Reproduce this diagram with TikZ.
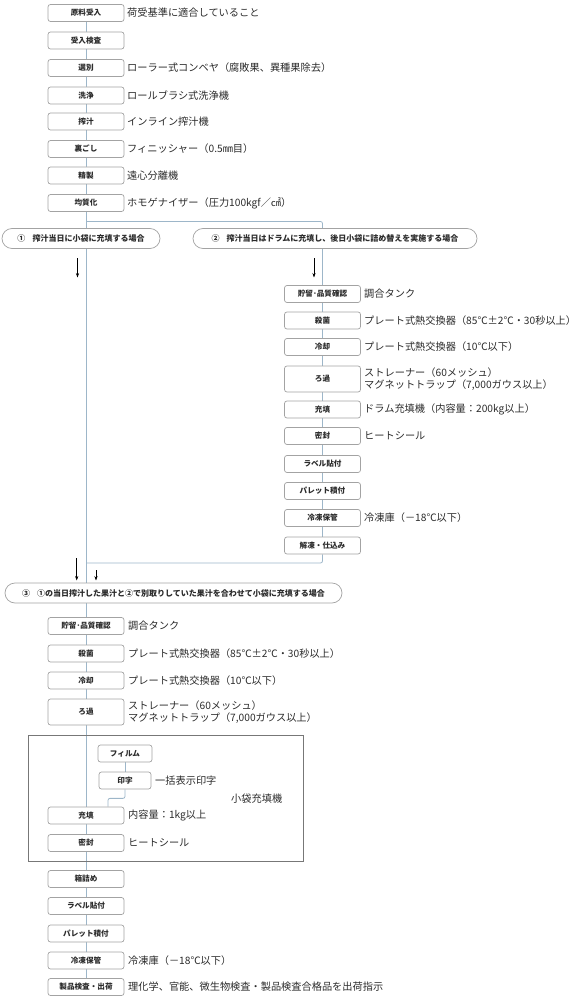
\documentclass[tikz,border=0pt]{standalone}
\usepackage{fontspec}
\newfontfamily\jp{Noto Sans CJK JP}
\usetikzlibrary{arrows.meta,backgrounds}
\definecolor{linec}{HTML}{9DB6C9}
\definecolor{boxgray}{HTML}{A3A3A3}
\definecolor{framec}{HTML}{777777}
\definecolor{textc}{HTML}{2B2B2B}
\newcommand{\boxfont}{\jp\bfseries\fontsize{7.6}{9}\selectfont}
\newcommand{\lblfont}{\jp\fontsize{10.2}{11.6}\selectfont}
\newcommand{\ovalfont}{\jp\bfseries\fontsize{8}{9}\selectfont}
\tikzset{
  stepbox/.style={draw=boxgray, line width=0.7pt, rounded corners=2.5pt, fill=white,
    minimum width=76pt, minimum height=17pt, inner sep=0pt, font=\boxfont, text=textc},
  lbl/.style={anchor=west, inner sep=0pt, font=\lblfont, text=textc, align=left},
  oval/.style={draw=boxgray, line width=0.7pt, rounded corners=10pt, fill=white,
    minimum height=20pt, inner sep=0pt, font=\ovalfont, text=textc},
  conn/.style={draw=linec, line width=0.8pt, rounded corners=2pt},
  arr/.style={-{Stealth[length=4.5pt,width=3.2pt]}, line width=0.6pt, draw=black},
}
\begin{document}
\begin{tikzpicture}[x=1pt,y=-1pt]
\useasboundingbox (0,0) rectangle (584,1000);
% ---- top column
\node[stepbox] (n1) at (86,13) {原料受入};
\node[stepbox] (n2) at (86,40.5) {受入検査};
\node[stepbox] (n3) at (86,68) {選別};
\node[stepbox] (n4) at (86,95.5) {洗浄};
\node[stepbox] (n5) at (86,121.5) {搾汁};
\node[stepbox] (n6) at (86,149) {裏ごし};
\node[stepbox] (n7) at (86,175.5) {精製};
\node[stepbox] (n8) at (86,203) {均質化};
\node[lbl] (t1) at (127,13) {荷受基準に適合していること};
\node[lbl] (t3) at (127,68) {ローラー式コンベヤ（腐敗果、異種果除去）};
\node[lbl] (t4) at (127,95.5) {ロールブラシ式洗浄機};
\node[lbl] (t5) at (127,121.5) {インライン搾汁機};
\node[lbl] (t6) at (127,149) {フィニッシャー（0.5㎜目）};
\node[lbl] (t7) at (127,175.5) {遠心分離機};
\node[lbl] (t8) at (127,203) {ホモゲナイザー（圧力100kgf／㎠）};
% ---- branch ovals
\coordinate (jL) at (86,221.5);
\coordinate (jR) at (322.5,221.5);
\node[oval, minimum width=158pt] (o1) at (81,238.5) {①\hspace{0.9em}搾汁当日に小袋に充填する場合};
\node[oval, minimum width=284pt] (o2) at (335,238.5) {②\hspace{0.9em}搾汁当日はドラムに充填し、後日小袋に詰め替えを実施する場合};
\coordinate (a1s) at (77.5,258);
\coordinate (a1e) at (77.5,277.5);
\coordinate (a2s) at (314,258);
\coordinate (a2e) at (314,277.5);
% ---- right column
\node[stepbox] (r1) at (322.5,294) {貯留･品質確認};
\node[stepbox] (r2) at (322.5,320.5) {殺菌};
\node[stepbox] (r3) at (322.5,347) {冷却};
\node[stepbox, minimum height=26pt] (r4) at (322.5,379) {ろ過};
\node[stepbox] (r5) at (322.5,409.5) {充填};
\node[stepbox] (r6) at (322.5,436) {密封};
\node[stepbox] (r7) at (322.5,464) {ラベル貼付};
\node[stepbox] (r8) at (322.5,491) {パレット積付};
\node[stepbox] (r9) at (322.5,518) {冷凍保管};
\node[stepbox] (r10) at (322.5,545.5) {解凍・仕込み};
\node[lbl] (s1) at (364,294) {調合タンク};
\node[lbl] (s2) at (364,320.5) {プレート式熱交換器（85℃±2℃・30秒以上）};
\node[lbl] (s3) at (364,347) {プレート式熱交換器（10℃以下）};
\node[lbl] (s4) at (364,379) {ストレーナー（60メッシュ）\\マグネットトラップ（7,000ガウス以上）};
\node[lbl] (s5) at (364,409.5) {ドラム充填機（内容量：200kg以上）};
\node[lbl] (s6) at (364,436) {ヒートシール};
\node[lbl] (s9) at (364,518) {冷凍庫（－18℃以下）};
\coordinate (rb) at (322.5,563);
\coordinate (lb) at (86,563);
\coordinate (a3s) at (76.7,558);
\coordinate (a3e) at (76.7,580.5);
\coordinate (a4s) at (96,570);
\coordinate (a4e) at (96,580.5);
% ---- merged oval
\node[oval, minimum width=337pt] (o3) at (173.5,593) {③\hspace{0.9em}①の当日搾汁した果汁と②で別取りしていた果汁を合わせて小袋に充填する場合};
% ---- lower column
\node[stepbox] (l1) at (86,626) {貯留･品質確認};
\node[stepbox] (l2) at (86,653.5) {殺菌};
\node[stepbox] (l3) at (86,680.5) {冷却};
\node[stepbox, minimum height=26pt] (l4) at (86,712) {ろ過};
\node[lbl] (u1) at (128,626) {調合タンク};
\node[lbl] (u2) at (128,653.5) {プレート式熱交換器（85℃±2℃・30秒以上）};
\node[lbl] (u3) at (128,680.5) {プレート式熱交換器（10℃以下）};
\node[lbl] (u4) at (128,712) {ストレーナー（60メッシュ）\\マグネットトラップ（7,000ガウス以上）};
% frame
\draw[framec, line width=1pt] (28,735) rectangle (303,861);
\node[stepbox, minimum width=54pt] (film) at (125,753.5) {フィルム};
\node[stepbox, minimum width=52pt] (inji) at (125,780.5) {印字};
\node[lbl] (u5) at (155,780.5) {一括表示印字};
\node[lbl] (u6) at (231,799) {小袋充填機};
\node[stepbox] (l5) at (86,815.5) {充填};
\node[stepbox] (l6) at (86,843) {密封};
\node[lbl] (u7) at (128,815.5) {内容量：1kg以上};
\node[lbl] (u8) at (128,843) {ヒートシール};
\node[stepbox] (l7) at (86,879) {箱詰め};
\node[stepbox] (l8) at (86,906) {ラベル貼付};
\node[stepbox] (l9) at (86,933.5) {パレット積付};
\node[stepbox] (l10) at (86,960.5) {冷凍保管};
\node[stepbox] (l11) at (86,987) {製品検査・出荷};
\node[lbl] (u10) at (128,960.5) {冷凍庫（－18℃以下）};
\node[lbl] (u11) at (128,987) {理化学、官能、微生物検査・製品検査合格品を出荷指示};
% ---- connectors
\begin{pgfonlayer}{background}
\foreach \a/\b in {n1/n2,n2/n3,n3/n4,n4/n5,n5/n6,n6/n7,n7/n8,
  r1/r2,r2/r3,r3/r4,r4/r5,r5/r6,r6/r7,r7/r8,r8/r9,r9/r10,
  l1/l2,l2/l3,l3/l4,l4/l5,l5/l6,l6/l7,l7/l8,l8/l9,l9/l10,l10/l11,film/inji}
  \draw[conn] (\a.south) -- (\b.north);
\draw[conn] (n8.south) -- (n8.south |- o3.north);
\draw[conn] (jL) -- (jR) -- (r1.north);
\draw[conn] (r10.south) -- (rb) -- (lb);
\draw[conn] (n8.south |- o3.south) -- (l1.north);
\draw[conn] (inji.south) -- ([yshift=-9pt]inji.south) -| ([xshift=22pt]l5.north);
\end{pgfonlayer}
\draw[arr] (a1s) -- (a1e);
\draw[arr] (a2s) -- (a2e);
\draw[arr] (a3s) -- (a3e);
\draw[arr] (a4s) -- (a4e);
\end{tikzpicture}
\end{document}
